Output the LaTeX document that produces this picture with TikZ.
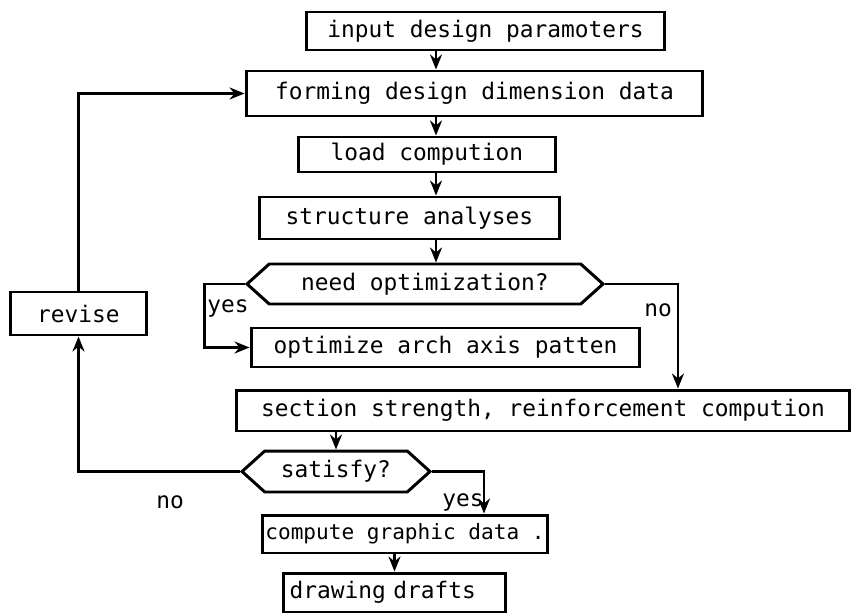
\documentclass[tikz,border=0pt]{standalone}
\usepackage{fontspec}
\setmonofont{DejaVu Sans Mono}
\usepackage{tikz}
\usetikzlibrary{arrows, arrows.meta, shapes.symbols}

\begin{document}
\begin{tikzpicture}[x=0.02cm,y=-0.02cm,>={Stealth[length=3mm,width=2.4mm]},
  box/.style={draw,line width=1.7pt,inner sep=2pt,font=\ttfamily\fontsize{13}{15}\selectfont},
  ask/.style={box,signal,signal to=west and east,signal pointer angle=84},
  lbl/.style={font=\ttfamily\fontsize{13}{15}\selectfont},
  flow/.style={line width=1.5pt,->}]
\useasboundingbox (0,0) rectangle (852,615);
\coordinate (spine) at (436,0);
\node[box,minimum width=7.18cm,minimum height=0.76cm] (input) at (485.5,31) {input design paramoters};
\node[box,minimum width=9.14cm,minimum height=0.9cm] (forming) at (474.5,93.5) {forming design dimension data};
\node[box,minimum width=5.16cm,minimum height=0.7cm] (load) at (427,154.5) {load compution};
\node[box,minimum width=6.02cm,minimum height=0.84cm] (struct) at (409.5,218) {structure analyses};
\node[ask,minimum width=7.12cm,minimum height=0.8cm] (needopt) at (425,284) {need optimization?};
\node[box,minimum width=7.78cm,minimum height=0.78cm] (optim) at (445.5,347.5) {optimize arch axis patten};
\node[box,minimum width=12.28cm,minimum height=0.82cm] (section) at (543,410.5) {section strength, reinforcement compution};
\node[ask,minimum width=3.76cm,minimum height=0.82cm] (satisfy) at (336,471.5) {satisfy?};
\node[box,minimum width=5.72cm,minimum height=0.76cm,inner xsep=1pt,font=\ttfamily\fontsize{12}{14}\selectfont] (compute) at (405,534) {compute graphic data .};
\node[box,minimum width=4.46cm,minimum height=0.78cm,text width=4.2cm,align=left] (drawing) at (394.5,592.5) {drawing drafts};
\node[box,minimum width=2.74cm,minimum height=0.86cm] (revise) at (78.5,313.5) {revise};
\draw[flow] (input.south -| spine) -- (forming.north -| spine);
\draw[flow] (forming.south -| spine) -- (load.north -| spine);
\draw[flow] (load.south -| spine) -- (struct.north -| spine);
\draw[flow] (struct.south -| spine) -- (needopt.north -| spine);
\draw[flow] (needopt.west) -- ++(-40,0) |- (optim.west);
\draw[flow] (needopt.east) -| ([xshift=2.7cm]section.north);
\draw[flow] (section.south -| satisfy.north) -- (satisfy.north);
\draw[flow] (satisfy.east) -| ([xshift=1.58cm]compute.north);
\draw[flow] (compute.south -| drawing.north) -- (drawing.north);
\draw[flow] (satisfy.west) -| (revise.south);
\draw[flow] (revise.north) |- (forming.west);
\node[lbl] (yes1) at (228,308) {yes};
\node[lbl] (no1) at (658,310) {no};
\node[lbl] (no2) at (170,502) {no};
\node[lbl] (yes2) at (463,502) {yes};
\end{tikzpicture}
\end{document}
